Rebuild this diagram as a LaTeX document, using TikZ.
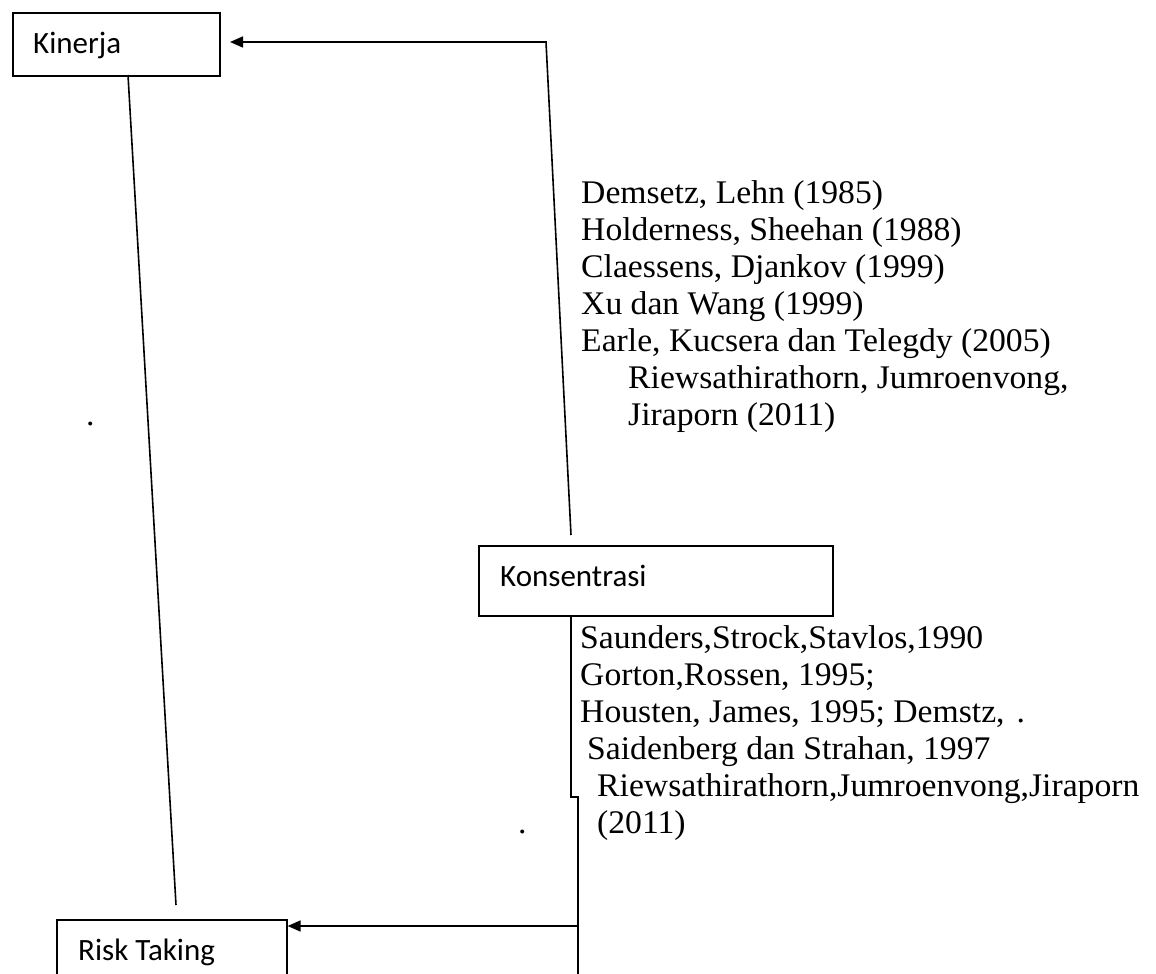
\documentclass[tikz,border=0pt]{standalone}
\usepackage{fontspec}
\setmainfont{Liberation Serif}[FakeStretch=1.02]
\newfontfamily\boxfont{Carlito}
\usetikzlibrary{arrows.meta}
\begin{document}
\begin{tikzpicture}[x=1pt,y=-1pt,
  box/.style={draw, line width=1.6pt, inner sep=0pt, anchor=north west},
  lbl/.style={anchor=base west, inner sep=0pt, font=\boxfont\fontsize{31}{37}\selectfont},
  refline/.style={anchor=base west, inner sep=0pt, font=\fontsize{33}{37}\selectfont},
  conn/.style={line width=1.6pt},
  arr/.style={line width=1.6pt, -{Triangle[length=13pt,width=11pt]}}]
\useasboundingbox (0,0) rectangle (1156,974);
\clip (0,0) rectangle (1156,974);
% boxes
\node[box, minimum width=207pt, minimum height=63pt] (kin) at (12,12) {};
\node[lbl] (kintext) at (33,53) {Kinerja};
\node[box, minimum width=354pt, minimum height=70pt] (kon) at (478,545) {};
\node[lbl] (kontext) at (500,586) {Konsentrasi};
\node[box, minimum width=230pt, minimum height=90pt] (risk) at (56,919) {};
\node[lbl] (risktext) at (78,960) {Risk Taking};
% connectors
\coordinate (kinL) at (128,75);
\coordinate (riskL) at (176,905);
\draw[conn] (kinL) -- (riskL);
\coordinate (konT) at (571,535);
\coordinate (topC) at (546,42);
\coordinate (kinArr) at (230,42);
\draw[arr] (konT) -- (topC) -- (kinArr);
\coordinate (konB) at (571,615);
\coordinate (jogA) at (571,797);
\coordinate (jogB) at (578,797);
\coordinate (botEnd) at (578,990);
\coordinate (arrStart) at (578,926);
\draw[conn] (konB) -- (jogA) -- (jogB) -- (botEnd);
\draw[arr] (arrStart) -- (risk.east |- arrStart);
% upper references
\node[refline] (u1) at (581,203) {Demsetz, Lehn (1985)};
\node[refline] (u2) at (581,240) {Holderness, Sheehan (1988)};
\node[refline] (u3) at (581,277) {Claessens, Djankov (1999)};
\node[refline] (u4) at (581,314) {Xu dan Wang (1999)};
\node[refline] (u5) at (581,351) {Earle, Kucsera dan Telegdy (2005)};
\node[refline] (u6) at (628,388) {Riewsathirathorn, Jumroenvong,};
\node[refline] (u7) at (628,425) {Jiraporn (2011)};
% lower references
\node[refline] (l1) at (580,648) {Saunders,Strock,Stavlos,1990};
\node[refline] (l2) at (580,685) {Gorton,Rossen, 1995;};
\node[refline] (l3) at (580,722) {Housten, James, 1995; Demstz,\hspace{12pt}.};
\node[refline] (l4) at (587,759) {Saidenberg dan Strahan, 1997};
\node[refline] (l5) at (597,796) {Riewsathirathorn,Jumroenvong,Jiraporn};
\node[refline] (l6) at (597,833) {(2011)};
% stray dots
\node[refline] (dotL) at (86,425) {.};
\node[refline] (dotM) at (518,833) {.};
\end{tikzpicture}
\end{document}
